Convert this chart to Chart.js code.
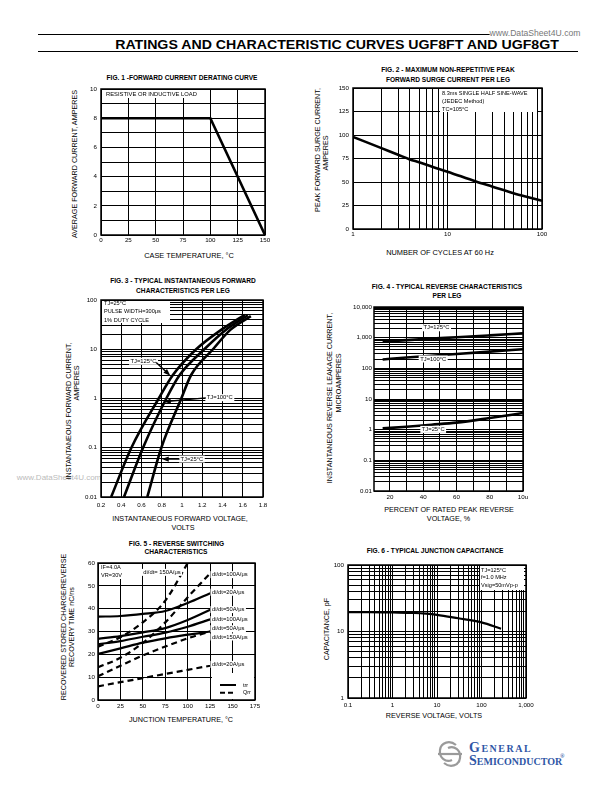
<!DOCTYPE html>
<html>
<head>
<meta charset="utf-8">
<script src="https://cdn.jsdelivr.net/npm/chart.js@4.4.0/dist/chart.umd.min.js"></script>
<style>
body { margin: 0; background: #fff; }
#page { position: relative; width: 612px; height: 792px; overflow: hidden; background: #fff;
        font-family: "Liberation Sans", Arial, sans-serif; color: #000; }
.t { position: absolute; white-space: nowrap; line-height: 1; }
canvas { position: absolute; }
</style>
</head>
<body>
<div id="page"></div>
<script>
// ---- data ----
// fig 1 - derating
var fig1Temp = [0, 100, 150];
var fig1Amps = [8, 8, 0];
var fig1XTicks = [0, 25, 50, 75, 100, 125, 150];
var fig1YTicks = [0, 2, 4, 6, 8, 10];

// fig 2 - surge current
var fig2Cycles = [1, 2, 3, 4, 5, 7, 10, 20, 30, 50, 70, 100];
var fig2Surge = [98, 86, 79, 74, 71, 66, 61, 50.5, 45, 38, 34, 30];
var fig2XTicks = [1, 10, 100];
var fig2YTicks = [0, 25, 50, 75, 100, 125, 150];

// fig 3 - forward characteristics
var fig3Volt125 = [0.30, 0.50, 0.77, 0.91, 1.14, 1.39, 1.62];
var fig3Amp125 = [0.01, 0.1, 1, 3, 10, 25, 50];
var fig3Volt100 = [0.427, 0.615, 0.845, 0.977, 1.22, 1.435, 1.65];
var fig3Amp100 = [0.01, 0.1, 1, 3, 10, 25, 49];
var fig3Volt25 = [0.657, 0.796, 0.993, 1.09, 1.306, 1.48, 1.68];
var fig3Amp25 = [0.01, 0.1, 1, 3, 10, 25, 47];
var fig3XTicks = [0.2, 0.4, 0.6, 0.8, 1, 1.2, 1.4, 1.6, 1.8];
var fig3XLabels = ['0.2', '0.4', '0.6', '0.8', '1', '1.2', '1.4', '1.6', '1.8'];
var fig3YTicks = [0.01, 0.1, 1, 10, 100];
var fig3YLabels = ['0.01', '0.1', '1', '10', '100'];

// fig 4 - reverse characteristics
var fig4Percent = [15.6, 30, 45, 60, 80, 100];
var fig4Leak125 = [740, 830, 930, 1030, 1190, 1380];
var fig4Leak100 = [195, 225, 258, 293, 350, 420];
var fig4Leak25 = [1.1, 1.25, 1.45, 1.7, 2.4, 3.5];
var fig4XTicks = [20, 40, 60, 80, 100];
var fig4XLabels = ['20', '40', '60', '80', '10u'];
var fig4YTicks = [0.01, 0.1, 1, 10, 100, 1000, 10000];
var fig4YLabels = ['0.01', '0.1', '1', '10', '100', '1,000', '10,000'];

// fig 5 - reverse switching
var fig5Temp = [0, 25, 50, 75, 100, 125];
var fig5Trr20 = [36.5, 36.8, 37.7, 39, 42.5, 46.8];
var fig5Trr50 = [26.8, 28, 29.6, 31.5, 35, 39.5];
var fig5Trr100 = [24.4, 25.8, 27.7, 29.5, 32.1, 35.3];
var fig5Trr150 = [20.2, 22.6, 25.1, 27, 28.6, 30];
var fig5Qrr20 = [6, 7.8, 9.6, 11.4, 13.2, 15];
var fig5Qrr50 = [10.4, 15, 19.5, 23.4, 27, 30];
var fig5Qrr100 = [14.3, 18.5, 25, 34, 45, 55.5];
var fig5Qrr150Temp = [0, 25, 50, 75, 100];
var fig5Qrr150 = [23.3, 27.5, 34, 43.5, 60];
var fig5XTicks = [0, 25, 50, 75, 100, 125, 150, 175];
var fig5YTicks = [0, 10, 20, 30, 40, 50, 60];

// fig 6 - junction capacitance
var fig6Volts = [0.1, 0.3, 1, 3, 10, 30, 100, 275];
var fig6Cap = [19.5, 19.5, 19.3, 19, 17.8, 15.8, 13.7, 11];
var fig6XTicks = [0.1, 1, 10, 100, 1000];
var fig6XLabels = ['0.1', '1', '10', '100', '1,000'];
var fig6YTicks = [1, 10, 100];

var FONT = '"Liberation Sans", Arial, sans-serif';
var page = document.getElementById('page');

function txt(s, cx, cy, size, bold, rot, sx, color) {
    var d = document.createElement('div');
    d.className = 't';
    d.textContent = s;
    d.style.fontSize = size + 'px';
    if (bold) d.style.fontWeight = 'bold';
    if (color) d.style.color = color;
    d.style.left = cx + 'px';
    d.style.top = cy + 'px';
    d.style.transform = 'translate(-50%,-50%)' + (rot ? ' rotate(-90deg)' : '') + (sx ? ' scaleX(' + sx + ')' : '');
    page.appendChild(d);
    return d;
}

function rule(x, y, w, h) {
    var d = document.createElement('div');
    d.style.cssText = 'position:absolute;background:#000;left:' + x + 'px;top:' + y + 'px;width:' + w + 'px;height:' + h + 'px';
    page.appendChild(d);
}

function steps(a, b, s) {
    var out = [];
    for (var v = a; v <= b + s / 1000; v += s) out.push(Math.round(v * 1000) / 1000);
    return out;
}

function logGrid(min, max) {
    var out = [];
    for (var e = Math.floor(Math.log10(min)); e <= Math.ceil(Math.log10(max)); e++) {
        for (var m = 1; m < 10; m++) {
            var v = Number((m * Math.pow(10, e)).toPrecision(6));
            if (v >= min && v <= max) out.push(v);
        }
    }
    return out;
}

function tickLabel(v, vals, labels) {
    for (var i = 0; i < vals.length; i++) {
        if (Math.abs(vals[i] - v) <= Math.abs(v) * 1e-6 + 1e-9) return labels ? labels[i] : String(vals[i]);
    }
    return '';
}

function series(xs, ys, width, dash) {
    return {
        data: xs.map(function (x, i) { return {x: x, y: ys[i]}; }),
        borderColor: '#000', borderWidth: width, borderDash: dash || [],
        fill: false, pointRadius: 0, cubicInterpolationMode: 'monotone'
    };
}

// ---- annotations drawn with the chart scales ----
var notes = {};
var notesPlugin = {
    id: 'notes',
    beforeDatasetsDraw: function (chart) {
        var n = notes[chart.canvas.id];
        if (!n || !n.box) return;
        var ctx = chart.ctx, a = chart.chartArea, b = n.box;
        var x0 = b.right !== undefined ? a.right - b.right - b.w : a.left;
        ctx.save();
        ctx.fillStyle = '#fff';
        ctx.fillRect(x0 + 1, a.top + 1, b.w - 1, b.h - 1);
        ctx.fillStyle = '#000';
        ctx.font = b.size + 'px ' + FONT;
        ctx.textBaseline = 'middle';
        b.lines.forEach(function (s, i) { ctx.fillText(s, x0 + b.pad, a.top + b.first + i * b.step); });
        ctx.restore();
    },
    afterDatasetsDraw: function (chart) {
        var n = notes[chart.canvas.id];
        if (!n) return;
        var ctx = chart.ctx, a = chart.chartArea;
        var xs = chart.scales.x, ys = chart.scales.y;
        ctx.save();
        ctx.textBaseline = 'middle';
        (n.labels || []).forEach(function (l) {
            var px = xs.getPixelForValue(l.x), py = ys.getPixelForValue(l.y);
            ctx.font = '5.8px ' + FONT;
            var w = ctx.measureText(l.text).width;
            var left = l.align === 'center' ? px - w / 2 : px;
            ctx.fillStyle = '#fff';
            ctx.fillRect(left - 1.5, py - 3.5, w + 3, 7);
            ctx.fillStyle = '#000';
            ctx.fillText(l.text, left, py);
        });
        (n.arrows || []).forEach(function (r) {
            var x1 = xs.getPixelForValue(r.x1), y1 = ys.getPixelForValue(r.y1);
            var x2 = xs.getPixelForValue(r.x2), y2 = ys.getPixelForValue(r.y2);
            var ang = Math.atan2(y2 - y1, x2 - x1);
            ctx.strokeStyle = '#000';
            ctx.lineWidth = 1.4;
            ctx.beginPath();
            ctx.moveTo(x1, y1);
            ctx.lineTo(x2 - 5 * Math.cos(ang), y2 - 5 * Math.sin(ang));
            ctx.stroke();
            ctx.fillStyle = '#000';
            ctx.beginPath();
            ctx.moveTo(x2, y2);
            ctx.lineTo(x2 - 7 * Math.cos(ang) + 2.6 * Math.sin(ang), y2 - 7 * Math.sin(ang) - 2.6 * Math.cos(ang));
            ctx.lineTo(x2 - 7 * Math.cos(ang) - 2.6 * Math.sin(ang), y2 - 7 * Math.sin(ang) + 2.6 * Math.cos(ang));
            ctx.closePath();
            ctx.fill();
        });
        if (n.legend) {
            var g = n.legend;
            var lx = a.right - g.w, ly = a.bottom - g.h;
            ctx.fillStyle = '#fff';
            ctx.fillRect(lx, ly, g.w - 1, g.h - 1);
            g.items.forEach(function (it, i) {
                var yy = ly + g.first + i * g.step;
                ctx.strokeStyle = '#000';
                ctx.lineWidth = 2;
                ctx.setLineDash(it.dash || []);
                ctx.beginPath();
                ctx.moveTo(lx + 8, yy);
                ctx.lineTo(lx + 24, yy);
                ctx.stroke();
                ctx.setLineDash([]);
                ctx.fillStyle = '#000';
                ctx.font = '5.5px ' + FONT;
                ctx.fillText(it.text, lx + 31, yy);
            });
        }
        ctx.restore();
    },
    afterDraw: function (chart) {
        var ctx = chart.ctx, a = chart.chartArea;
        ctx.save();
        ctx.strokeStyle = '#000';
        ctx.lineWidth = 1.5;
        ctx.strokeRect(a.left, a.top, a.right - a.left, a.bottom - a.top);
        ctx.restore();
    }
};

function axisOpts(ax, horizontal, size) {
    return {
        type: ax.type, min: ax.min, max: ax.max,
        afterBuildTicks: function (s) { s.ticks = ax.grid.map(function (v) { return {value: v}; }); },
        afterFit: function (s) {
            if (horizontal) s.height = size; else s.width = size;
            s.paddingLeft = 0; s.paddingRight = 0; s.paddingTop = 0; s.paddingBottom = 0;
        },
        grid: {color: '#000', lineWidth: 1, drawTicks: false},
        border: {display: false},
        ticks: {
            autoSkip: false, maxRotation: 0, minRotation: 0, padding: ax.pad, color: '#000',
            font: {family: FONT, size: 6.2},
            callback: function (v) { return tickLabel(v, ax.vals, ax.labels); }
        }
    };
}

function makeChart(name, area, xAxis, yAxis, datasets) {
    var padL = 48, padT = 8, padR = 16, padB = 22;
    var c = document.createElement('canvas');
    c.id = name;
    var w = area.r - area.l + padL + padR, h = area.b - area.t + padT + padB;
    c.width = w;
    c.height = h;
    c.style.left = (area.l - padL) + 'px';
    c.style.top = (area.t - padT) + 'px';
    c.style.width = w + 'px';
    c.style.height = h + 'px';
    page.appendChild(c);
    return new Chart(c, {
        type: 'line',
        data: {datasets: datasets},
        options: {
            responsive: false, animation: false, devicePixelRatio: 1,
            layout: {padding: {left: 0, top: padT, right: padR, bottom: 0}},
            plugins: {legend: {display: false}, tooltip: {enabled: false}},
            elements: {point: {radius: 0}},
            scales: {x: axisOpts(xAxis, true, padB), y: axisOpts(yAxis, false, padL)}
        },
        plugins: [notesPlugin]
    });
}

// ---- page header ----
rule(38, 34, 519, 1);
rule(38, 50.5, 540, 1.5);
txt('RATINGS AND CHARACTERISTIC CURVES UGF8FT AND UGF8GT', 337, 44.5, 12, true, false, 1.18);
var wm = txt('www.DataSheet4U.com', 535, 33, 8.6, false, false, 0, '#777');
wm.style.background = '#fff';
txt('www.DataSheet4U.com', 59, 478, 8, false, false, 0, '#bbb');

// ---- fig 1 ----
txt('FIG. 1 -FORWARD CURRENT DERATING CURVE', 182, 77.5, 6.6, true);
txt('AVERAGE FORWARD CURRENT, AMPERES', 75, 164, 7.2, false, true);
txt('CASE TEMPERATURE, \u00B0C', 189, 256, 7.4);
notes.fig1 = {box: {w: 104, h: 9, size: 5.8, pad: 5, first: 5, step: 0, lines: ['RESISTIVE OR INDUCTIVE LOAD']}};
makeChart('fig1', {l: 101, r: 265, t: 89, b: 235},
    {type: 'linear', min: 0, max: 150, grid: fig1XTicks, vals: fig1XTicks, pad: 2},
    {type: 'linear', min: 0, max: 10, grid: steps(0, 10, 1), vals: fig1YTicks, pad: 4},
    [Object.assign(series(fig1Temp, fig1Amps, 2.6), {cubicInterpolationMode: 'default', tension: 0})]);

// ---- fig 2 ----
txt('FIG. 2 - MAXIMUM NON-REPETITIVE PEAK', 448, 70, 6.6, true);
txt('FORWARD SURGE CURRENT PER LEG', 448, 79.5, 6.6, true);
txt('PEAK FORWARD SURGE CURRENT,', 317.5, 150, 7.2, false, true);
txt('AMPERES', 325.5, 153, 7.2, false, true);
txt('NUMBER OF CYCLES AT 60 Hz', 440, 253, 7.4);
notes.fig2 = {box: {right: 5, w: 98, h: 24, size: 5.6, pad: 3, first: 5.5, step: 8.2,
    lines: ['8.3ms SINGLE HALF SINE-WAVE', '(JEDEC Method)', 'TC=105\u00B0C']}};
makeChart('fig2', {l: 353, r: 542, t: 88, b: 229},
    {type: 'logarithmic', min: 1, max: 100, grid: logGrid(1, 100), vals: fig2XTicks, pad: 2},
    {type: 'linear', min: 0, max: 150, grid: fig2YTicks, vals: fig2YTicks, pad: 4},
    [series(fig2Cycles, fig2Surge, 2.6)]);

// ---- fig 3 ----
txt('FIG. 3 - TYPICAL INSTANTANEOUS FORWARD', 183, 281, 6.6, true);
txt('CHARACTERISTICS PER LEG', 183, 290.5, 6.6, true);
txt('INSTANTANEOUS FORWARD CURRENT,', 68.5, 411, 7.2, false, true);
txt('AMPERES', 76.5, 383, 7.2, false, true);
txt('INSTANTANEOUS FORWARD VOLTAGE,', 180, 518.5, 7.2);
txt('VOLTS', 183, 527.5, 7.2);
notes.fig3 = {
    box: {w: 69, h: 23, size: 5.6, pad: 3, first: 3.5, step: 8.3,
        lines: ['TJ=25\u00B0C', 'PULSE WIDTH=300\u03BCs', '1% DUTY CYCLE']},
    labels: [
        {x: 0.62, y: 5.7, text: 'TJ=125\u00B0C', align: 'center'},
        {x: 1.245, y: 1.04, text: 'TJ=100\u00B0C'},
        {x: 0.985, y: 0.059, text: 'TJ=25\u00B0C'}
    ],
    arrows: [
        {x1: 0.745, y1: 5.4, x2: 0.885, y2: 2.9},
        {x1: 1.235, y1: 1.03, x2: 0.82, y2: 0.86},
        {x1: 0.975, y1: 0.059, x2: 0.8, y2: 0.059}
    ]
};
makeChart('fig3', {l: 101, r: 263, t: 300, b: 497},
    {type: 'linear', min: 0.2, max: 1.8, grid: fig3XTicks, vals: fig3XTicks, labels: fig3XLabels, pad: 5},
    {type: 'logarithmic', min: 0.01, max: 100, grid: logGrid(0.01, 100), vals: fig3YTicks, labels: fig3YLabels, pad: 4},
    [series(fig3Volt125, fig3Amp125, 2.6), series(fig3Volt100, fig3Amp100, 2.6), series(fig3Volt25, fig3Amp25, 2.6)]);

// ---- fig 4 ----
txt('FIG. 4 - TYPICAL REVERSE CHARACTERISTICS', 447, 287, 6.6, true);
txt('PER LEG', 447, 295.5, 6.6, true);
txt('INSTANTANEOUS REVERSE LEAKAGE CURRENT,', 330, 398, 7.2, false, true);
txt('MICROAMPERES', 338.5, 383, 7.2, false, true);
txt('PERCENT OF RATED PEAK REVERSE', 449, 509.5, 7.2);
txt('VOLTAGE, %', 448.5, 518.5, 7.2);
notes.fig4 = {labels: [
    {x: 48, y: 2100, text: 'TJ=125\u00B0C', align: 'center'},
    {x: 46, y: 202, text: 'TJ=100\u00B0C', align: 'center'},
    {x: 46, y: 1.02, text: 'TJ=25\u00B0C', align: 'center'}
]};
makeChart('fig4', {l: 374, r: 523, t: 307, b: 491},
    {type: 'linear', min: 10.4, max: 100, grid: steps(20, 100, 10), vals: fig4XTicks, labels: fig4XLabels, pad: 3},
    {type: 'logarithmic', min: 0.01, max: 10000, grid: logGrid(0.01, 10000), vals: fig4YTicks, labels: fig4YLabels, pad: 2},
    [series(fig4Percent, fig4Leak125, 2.6), series(fig4Percent, fig4Leak100, 2.6), series(fig4Percent, fig4Leak25, 2.6)]);

// ---- fig 5 ----
txt('FIG. 5 - REVERSE SWITCHING', 176.5, 543.5, 6.6, true);
txt('CHARACTERISTICS', 176, 552, 6.6, true);
txt('RECOVERED STORED CHARGE/REVERSE', 63.5, 627, 7.2, false, true);
txt('RECOVERY TIME nC/ns', 72, 627, 7.2, false, true);
txt('JUNCTION TEMPERATURE, \u00B0C', 181, 719.5, 7.2);
notes.fig5 = {
    box: {w: 29, h: 16, size: 5.6, pad: 3, first: 4.5, step: 8.3, lines: ['IF=4.0A', 'VR=30V']},
    labels: [
        {x: 50.5, y: 55.9, text: 'di/dt= 150A/\u03BCs'},
        {x: 127, y: 54.9, text: 'di/dt=100A/\u03BCs'},
        {x: 127, y: 47.2, text: 'di/dt=20A/\u03BCs'},
        {x: 127, y: 39.6, text: 'di/dt=50A/\u03BCs'},
        {x: 127, y: 35.2, text: 'di/dt=100A/\u03BCs'},
        {x: 127, y: 31.2, text: 'di/dt=50A/\u03BCs'},
        {x: 127, y: 27.6, text: 'di/dt=150A/\u03BCs'},
        {x: 127, y: 15.6, text: 'di/dt=20A/\u03BCs'}
    ],
    legend: {w: 43, h: 27, first: 12, step: 7.7, items: [{text: 'trr'}, {text: 'Qrr', dash: [5, 3]}]}
};
var dash = [6, 4];
makeChart('fig5', {l: 98, r: 255, t: 563, b: 700},
    {type: 'linear', min: 0, max: 175, grid: fig5XTicks, vals: fig5XTicks, pad: 3},
    {type: 'linear', min: 0, max: 60, grid: fig5YTicks, vals: fig5YTicks, pad: 3},
    [series(fig5Temp, fig5Trr20, 2.2), series(fig5Temp, fig5Trr50, 2.2),
     series(fig5Temp, fig5Trr100, 2.2), series(fig5Temp, fig5Trr150, 2.2),
     series(fig5Temp, fig5Qrr20, 2.2, dash), series(fig5Temp, fig5Qrr50, 2.2, dash),
     series(fig5Temp, fig5Qrr100, 2.2, dash), series(fig5Qrr150Temp, fig5Qrr150, 2.2, dash)]);

// ---- fig 6 ----
txt('FIG. 6 - TYPICAL JUNCTION CAPACITANCE', 435, 551, 6.6, true);
txt('CAPACITANCE, pF', 326.5, 629, 7.2, false, true);
txt('REVERSE VOLTAGE, VOLTS', 434, 716, 7.2);
notes.fig6 = {box: {right: 2, w: 45, h: 25, size: 5.6, pad: 2, first: 5, step: 7.6,
    lines: ['TJ=125\u00B0C', 'f=1.0 MHz', 'Vsig=50mVp-p']}};
makeChart('fig6', {l: 348, r: 526, t: 565, b: 698},
    {type: 'logarithmic', min: 0.1, max: 1000, grid: logGrid(0.1, 1000), vals: fig6XTicks, labels: fig6XLabels, pad: 4},
    {type: 'logarithmic', min: 1, max: 100, grid: logGrid(1, 100), vals: fig6YTicks, pad: 4},
    [series(fig6Volts, fig6Cap, 2.2)]);

// ---- logo ----
var logo = document.createElementNS('http://www.w3.org/2000/svg', 'svg');
logo.setAttribute('width', '28');
logo.setAttribute('height', '30');
logo.style.cssText = 'position:absolute;left:436px;top:739px';
logo.innerHTML = '<g fill="none" stroke="#9a9a9a" stroke-width="2.2">' +
    '<path d="M20 6 C14 1 5 3 4 11 C3 19 10 24 16 21"/>' +
    '<path d="M8 24 C14 29 23 27 24 19 C25 11 18 6 12 9"/>' +
    '<path d="M2 15 L26 15"/></g>';
page.appendChild(logo);
var brand = ['General', 'Semiconductor'];
var brandSpacing = [1.5, 0];
brand.forEach(function (w, i) {
    var d = document.createElement('div');
    d.className = 't';
    d.textContent = w;
    d.style.cssText += ';left:469px;top:' + (740 + i * 13) + 'px;font:bold 14px "Liberation Serif",serif;' +
        'font-variant:small-caps;color:#2f56a6;letter-spacing:' + brandSpacing[i] + 'px';
    page.appendChild(d);
});
var reg = document.createElement('div');
reg.className = 't';
reg.textContent = '\u00AE';
reg.style.cssText += ';left:560px;top:753px;font:bold 6px "Liberation Serif",serif;color:#2f56a6';
page.appendChild(reg);
</script>
</body>
</html>
